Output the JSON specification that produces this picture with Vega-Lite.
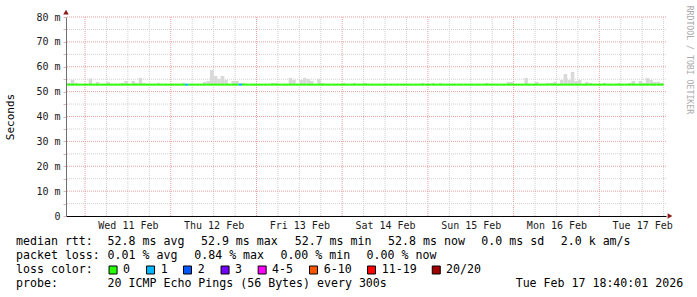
{
  "$schema": "https://vega.github.io/schema/vega-lite/v6.json",
  "padding": {"left": 4, "top": 5, "right": 4, "bottom": 2},
  "background": "white",
  "spacing": 5,
  "config": {
    "view": {"stroke": null},
    "font": "DejaVu Sans Mono",
    "axisY": {
      "labelFont": "DejaVu Sans Mono", "labelFontSize": 10, "labelColor": "#1a1a1a", "labelPadding": 3,
      "tickSize": 3, "tickColor": "#d8b4b4", "grid": false, "domainColor": "#707070", "labelOverlap": false,
      "titleFont": "DejaVu Sans Mono", "titleFontSize": 11, "titleFontWeight": "normal", "titleColor": "#000000", "titlePadding": 20
    }
  },
  "datasets": {
    "hours": [
      {"t":"2026-02-10T19:00Z","e":"2026-02-10T20:00Z","m":52.8,"l":"0","s":53.5},
      {"t":"2026-02-10T20:00Z","e":"2026-02-10T21:00Z","m":52.8,"l":"0","s":54.7},
      {"t":"2026-02-10T21:00Z","e":"2026-02-10T22:00Z","m":52.8,"l":"0","s":53.5},
      {"t":"2026-02-10T22:00Z","e":"2026-02-10T23:00Z","m":52.8,"l":"0"},
      {"t":"2026-02-10T23:00Z","e":"2026-02-11T00:00Z","m":52.8,"l":"0"},
      {"t":"2026-02-11T00:00Z","e":"2026-02-11T01:00Z","m":52.8,"l":"0"},
      {"t":"2026-02-11T01:00Z","e":"2026-02-11T02:00Z","m":52.8,"l":"0","s":55.2},
      {"t":"2026-02-11T02:00Z","e":"2026-02-11T03:00Z","m":52.8,"l":"0"},
      {"t":"2026-02-11T03:00Z","e":"2026-02-11T04:00Z","m":52.8,"l":"0","s":53.9},
      {"t":"2026-02-11T04:00Z","e":"2026-02-11T05:00Z","m":52.8,"l":"0"},
      {"t":"2026-02-11T05:00Z","e":"2026-02-11T06:00Z","m":52.8,"l":"0"},
      {"t":"2026-02-11T06:00Z","e":"2026-02-11T07:00Z","m":52.8,"l":"0","s":53.9},
      {"t":"2026-02-11T07:00Z","e":"2026-02-11T08:00Z","m":52.8,"l":"0"},
      {"t":"2026-02-11T08:00Z","e":"2026-02-11T09:00Z","m":52.8,"l":"0"},
      {"t":"2026-02-11T09:00Z","e":"2026-02-11T10:00Z","m":52.8,"l":"0"},
      {"t":"2026-02-11T10:00Z","e":"2026-02-11T11:00Z","m":52.8,"l":"0","s":53.5},
      {"t":"2026-02-11T11:00Z","e":"2026-02-11T12:00Z","m":52.8,"l":"0","s":54.3},
      {"t":"2026-02-11T12:00Z","e":"2026-02-11T13:00Z","m":52.8,"l":"0"},
      {"t":"2026-02-11T13:00Z","e":"2026-02-11T14:00Z","m":52.8,"l":"0","s":54.3},
      {"t":"2026-02-11T14:00Z","e":"2026-02-11T15:00Z","m":52.8,"l":"0","s":53.5},
      {"t":"2026-02-11T15:00Z","e":"2026-02-11T16:00Z","m":52.8,"l":"0","s":55.5},
      {"t":"2026-02-11T16:00Z","e":"2026-02-11T17:00Z","m":52.8,"l":"0","s":53.5},
      {"t":"2026-02-11T17:00Z","e":"2026-02-11T18:00Z","m":52.8,"l":"0"},
      {"t":"2026-02-11T18:00Z","e":"2026-02-11T19:00Z","m":52.8,"l":"0"},
      {"t":"2026-02-11T19:00Z","e":"2026-02-11T20:00Z","m":52.8,"l":"0"},
      {"t":"2026-02-11T20:00Z","e":"2026-02-11T21:00Z","m":52.8,"l":"0","s":53.5},
      {"t":"2026-02-11T21:00Z","e":"2026-02-11T22:00Z","m":52.8,"l":"0"},
      {"t":"2026-02-11T22:00Z","e":"2026-02-11T23:00Z","m":52.8,"l":"0"},
      {"t":"2026-02-11T23:00Z","e":"2026-02-12T00:00Z","m":52.8,"l":"0"},
      {"t":"2026-02-12T00:00Z","e":"2026-02-12T01:00Z","m":52.8,"l":"0"},
      {"t":"2026-02-12T01:00Z","e":"2026-02-12T02:00Z","m":52.8,"l":"0"},
      {"t":"2026-02-12T02:00Z","e":"2026-02-12T03:00Z","m":52.8,"l":"0"},
      {"t":"2026-02-12T03:00Z","e":"2026-02-12T04:00Z","m":52.8,"l":"0","s":53.5},
      {"t":"2026-02-12T04:00Z","e":"2026-02-12T05:00Z","m":52.8,"l":"1"},
      {"t":"2026-02-12T05:00Z","e":"2026-02-12T06:00Z","m":52.8,"l":"0"},
      {"t":"2026-02-12T06:00Z","e":"2026-02-12T07:00Z","m":52.8,"l":"0"},
      {"t":"2026-02-12T07:00Z","e":"2026-02-12T08:00Z","m":52.8,"l":"0"},
      {"t":"2026-02-12T08:00Z","e":"2026-02-12T09:00Z","m":52.8,"l":"0"},
      {"t":"2026-02-12T09:00Z","e":"2026-02-12T10:00Z","m":52.8,"l":"0","s":53.9},
      {"t":"2026-02-12T10:00Z","e":"2026-02-12T11:00Z","m":52.8,"l":"0","s":54.3},
      {"t":"2026-02-12T11:00Z","e":"2026-02-12T12:00Z","m":52.8,"l":"0","s":58.7},
      {"t":"2026-02-12T12:00Z","e":"2026-02-12T13:00Z","m":52.8,"l":"0","s":56.3},
      {"t":"2026-02-12T13:00Z","e":"2026-02-12T14:00Z","m":52.8,"l":"0","s":55.1},
      {"t":"2026-02-12T14:00Z","e":"2026-02-12T15:00Z","m":52.8,"l":"0","s":56.3},
      {"t":"2026-02-12T15:00Z","e":"2026-02-12T16:00Z","m":52.8,"l":"0","s":54.7},
      {"t":"2026-02-12T16:00Z","e":"2026-02-12T17:00Z","m":52.8,"l":"0"},
      {"t":"2026-02-12T17:00Z","e":"2026-02-12T18:00Z","m":52.8,"l":"0","s":54.3},
      {"t":"2026-02-12T18:00Z","e":"2026-02-12T19:00Z","m":52.8,"l":"0","s":54.3},
      {"t":"2026-02-12T19:00Z","e":"2026-02-12T20:00Z","m":52.8,"l":"1","s":53.5},
      {"t":"2026-02-12T20:00Z","e":"2026-02-12T21:00Z","m":52.8,"l":"0","s":53.5},
      {"t":"2026-02-12T21:00Z","e":"2026-02-12T22:00Z","m":52.8,"l":"0"},
      {"t":"2026-02-12T22:00Z","e":"2026-02-12T23:00Z","m":52.8,"l":"0"},
      {"t":"2026-02-12T23:00Z","e":"2026-02-13T00:00Z","m":52.8,"l":"0"},
      {"t":"2026-02-13T00:00Z","e":"2026-02-13T01:00Z","m":52.8,"l":"0"},
      {"t":"2026-02-13T01:00Z","e":"2026-02-13T02:00Z","m":52.8,"l":"0"},
      {"t":"2026-02-13T02:00Z","e":"2026-02-13T03:00Z","m":52.8,"l":"0"},
      {"t":"2026-02-13T03:00Z","e":"2026-02-13T04:00Z","m":52.8,"l":"0"},
      {"t":"2026-02-13T04:00Z","e":"2026-02-13T05:00Z","m":52.8,"l":"0","s":53.5},
      {"t":"2026-02-13T05:00Z","e":"2026-02-13T06:00Z","m":52.8,"l":"0","s":53.5},
      {"t":"2026-02-13T06:00Z","e":"2026-02-13T07:00Z","m":52.8,"l":"0"},
      {"t":"2026-02-13T07:00Z","e":"2026-02-13T08:00Z","m":52.8,"l":"0"},
      {"t":"2026-02-13T08:00Z","e":"2026-02-13T09:00Z","m":52.8,"l":"0"},
      {"t":"2026-02-13T09:00Z","e":"2026-02-13T10:00Z","m":52.8,"l":"0","s":55.5},
      {"t":"2026-02-13T10:00Z","e":"2026-02-13T11:00Z","m":52.8,"l":"0","s":54.7},
      {"t":"2026-02-13T11:00Z","e":"2026-02-13T12:00Z","m":52.8,"l":"0"},
      {"t":"2026-02-13T12:00Z","e":"2026-02-13T13:00Z","m":52.8,"l":"0","s":54.7},
      {"t":"2026-02-13T13:00Z","e":"2026-02-13T14:00Z","m":52.8,"l":"0","s":55.5},
      {"t":"2026-02-13T14:00Z","e":"2026-02-13T15:00Z","m":52.8,"l":"0","s":55.1},
      {"t":"2026-02-13T15:00Z","e":"2026-02-13T16:00Z","m":52.8,"l":"0","s":54.3},
      {"t":"2026-02-13T16:00Z","e":"2026-02-13T17:00Z","m":52.8,"l":"0"},
      {"t":"2026-02-13T17:00Z","e":"2026-02-13T18:00Z","m":52.8,"l":"0","s":55.1},
      {"t":"2026-02-13T18:00Z","e":"2026-02-13T19:00Z","m":52.8,"l":"0","s":53.5},
      {"t":"2026-02-13T19:00Z","e":"2026-02-13T20:00Z","m":52.8,"l":"0"},
      {"t":"2026-02-13T20:00Z","e":"2026-02-13T21:00Z","m":52.8,"l":"0"},
      {"t":"2026-02-13T21:00Z","e":"2026-02-13T22:00Z","m":52.8,"l":"0"},
      {"t":"2026-02-13T22:00Z","e":"2026-02-13T23:00Z","m":52.8,"l":"0"},
      {"t":"2026-02-13T23:00Z","e":"2026-02-14T00:00Z","m":52.8,"l":"0"},
      {"t":"2026-02-14T00:00Z","e":"2026-02-14T01:00Z","m":52.8,"l":"0","s":53.5},
      {"t":"2026-02-14T01:00Z","e":"2026-02-14T02:00Z","m":52.8,"l":"0"},
      {"t":"2026-02-14T02:00Z","e":"2026-02-14T03:00Z","m":52.8,"l":"0"},
      {"t":"2026-02-14T03:00Z","e":"2026-02-14T04:00Z","m":52.8,"l":"0","s":53.5},
      {"t":"2026-02-14T04:00Z","e":"2026-02-14T05:00Z","m":52.8,"l":"0"},
      {"t":"2026-02-14T05:00Z","e":"2026-02-14T06:00Z","m":52.8,"l":"0"},
      {"t":"2026-02-14T06:00Z","e":"2026-02-14T07:00Z","m":52.8,"l":"0","s":53.5},
      {"t":"2026-02-14T07:00Z","e":"2026-02-14T08:00Z","m":52.8,"l":"0"},
      {"t":"2026-02-14T08:00Z","e":"2026-02-14T09:00Z","m":52.8,"l":"0"},
      {"t":"2026-02-14T09:00Z","e":"2026-02-14T10:00Z","m":52.8,"l":"0"},
      {"t":"2026-02-14T10:00Z","e":"2026-02-14T11:00Z","m":52.8,"l":"0"},
      {"t":"2026-02-14T11:00Z","e":"2026-02-14T12:00Z","m":52.8,"l":"0"},
      {"t":"2026-02-14T12:00Z","e":"2026-02-14T13:00Z","m":52.8,"l":"0"},
      {"t":"2026-02-14T13:00Z","e":"2026-02-14T14:00Z","m":52.8,"l":"0"},
      {"t":"2026-02-14T14:00Z","e":"2026-02-14T15:00Z","m":52.8,"l":"0"},
      {"t":"2026-02-14T15:00Z","e":"2026-02-14T16:00Z","m":52.8,"l":"0"},
      {"t":"2026-02-14T16:00Z","e":"2026-02-14T17:00Z","m":52.8,"l":"0"},
      {"t":"2026-02-14T17:00Z","e":"2026-02-14T18:00Z","m":52.8,"l":"0"},
      {"t":"2026-02-14T18:00Z","e":"2026-02-14T19:00Z","m":52.8,"l":"0"},
      {"t":"2026-02-14T19:00Z","e":"2026-02-14T20:00Z","m":52.8,"l":"0"},
      {"t":"2026-02-14T20:00Z","e":"2026-02-14T21:00Z","m":52.8,"l":"0"},
      {"t":"2026-02-14T21:00Z","e":"2026-02-14T22:00Z","m":52.8,"l":"0"},
      {"t":"2026-02-14T22:00Z","e":"2026-02-14T23:00Z","m":52.8,"l":"0","s":53.5},
      {"t":"2026-02-14T23:00Z","e":"2026-02-15T00:00Z","m":52.8,"l":"0"},
      {"t":"2026-02-15T00:00Z","e":"2026-02-15T01:00Z","m":52.8,"l":"0"},
      {"t":"2026-02-15T01:00Z","e":"2026-02-15T02:00Z","m":52.8,"l":"0","s":53.5},
      {"t":"2026-02-15T02:00Z","e":"2026-02-15T03:00Z","m":52.8,"l":"0"},
      {"t":"2026-02-15T03:00Z","e":"2026-02-15T04:00Z","m":52.8,"l":"0","s":53.5},
      {"t":"2026-02-15T04:00Z","e":"2026-02-15T05:00Z","m":52.8,"l":"0"},
      {"t":"2026-02-15T05:00Z","e":"2026-02-15T06:00Z","m":52.8,"l":"0"},
      {"t":"2026-02-15T06:00Z","e":"2026-02-15T07:00Z","m":52.8,"l":"0"},
      {"t":"2026-02-15T07:00Z","e":"2026-02-15T08:00Z","m":52.8,"l":"0"},
      {"t":"2026-02-15T08:00Z","e":"2026-02-15T09:00Z","m":52.8,"l":"0"},
      {"t":"2026-02-15T09:00Z","e":"2026-02-15T10:00Z","m":52.8,"l":"0"},
      {"t":"2026-02-15T10:00Z","e":"2026-02-15T11:00Z","m":52.8,"l":"0"},
      {"t":"2026-02-15T11:00Z","e":"2026-02-15T12:00Z","m":52.8,"l":"0"},
      {"t":"2026-02-15T12:00Z","e":"2026-02-15T13:00Z","m":52.8,"l":"0"},
      {"t":"2026-02-15T13:00Z","e":"2026-02-15T14:00Z","m":52.8,"l":"0"},
      {"t":"2026-02-15T14:00Z","e":"2026-02-15T15:00Z","m":52.8,"l":"0"},
      {"t":"2026-02-15T15:00Z","e":"2026-02-15T16:00Z","m":52.8,"l":"0"},
      {"t":"2026-02-15T16:00Z","e":"2026-02-15T17:00Z","m":52.8,"l":"0","s":53.5},
      {"t":"2026-02-15T17:00Z","e":"2026-02-15T18:00Z","m":52.8,"l":"0"},
      {"t":"2026-02-15T18:00Z","e":"2026-02-15T19:00Z","m":52.8,"l":"0"},
      {"t":"2026-02-15T19:00Z","e":"2026-02-15T20:00Z","m":52.8,"l":"0"},
      {"t":"2026-02-15T20:00Z","e":"2026-02-15T21:00Z","m":52.8,"l":"0"},
      {"t":"2026-02-15T21:00Z","e":"2026-02-15T22:00Z","m":52.8,"l":"0"},
      {"t":"2026-02-15T22:00Z","e":"2026-02-15T23:00Z","m":52.8,"l":"0","s":53.9},
      {"t":"2026-02-15T23:00Z","e":"2026-02-16T00:00Z","m":52.8,"l":"0","s":53.9},
      {"t":"2026-02-16T00:00Z","e":"2026-02-16T01:00Z","m":52.8,"l":"0"},
      {"t":"2026-02-16T01:00Z","e":"2026-02-16T02:00Z","m":52.8,"l":"0"},
      {"t":"2026-02-16T02:00Z","e":"2026-02-16T03:00Z","m":52.8,"l":"0"},
      {"t":"2026-02-16T03:00Z","e":"2026-02-16T04:00Z","m":52.8,"l":"0","s":55.5},
      {"t":"2026-02-16T04:00Z","e":"2026-02-16T05:00Z","m":52.8,"l":"0"},
      {"t":"2026-02-16T05:00Z","e":"2026-02-16T06:00Z","m":52.8,"l":"0"},
      {"t":"2026-02-16T06:00Z","e":"2026-02-16T07:00Z","m":52.8,"l":"0","s":53.9},
      {"t":"2026-02-16T07:00Z","e":"2026-02-16T08:00Z","m":52.8,"l":"0"},
      {"t":"2026-02-16T08:00Z","e":"2026-02-16T09:00Z","m":52.8,"l":"0"},
      {"t":"2026-02-16T09:00Z","e":"2026-02-16T10:00Z","m":52.8,"l":"0","s":53.5},
      {"t":"2026-02-16T10:00Z","e":"2026-02-16T11:00Z","m":52.8,"l":"0","s":53.5},
      {"t":"2026-02-16T11:00Z","e":"2026-02-16T12:00Z","m":52.8,"l":"0","s":53.9},
      {"t":"2026-02-16T12:00Z","e":"2026-02-16T13:00Z","m":52.8,"l":"0"},
      {"t":"2026-02-16T13:00Z","e":"2026-02-16T14:00Z","m":52.8,"l":"0","s":54.7},
      {"t":"2026-02-16T14:00Z","e":"2026-02-16T15:00Z","m":52.8,"l":"0","s":57.1},
      {"t":"2026-02-16T15:00Z","e":"2026-02-16T16:00Z","m":52.8,"l":"0","s":54.7},
      {"t":"2026-02-16T16:00Z","e":"2026-02-16T17:00Z","m":52.8,"l":"0","s":57.9},
      {"t":"2026-02-16T17:00Z","e":"2026-02-16T18:00Z","m":52.8,"l":"0","s":54.3},
      {"t":"2026-02-16T18:00Z","e":"2026-02-16T19:00Z","m":52.8,"l":"0","s":54.7},
      {"t":"2026-02-16T19:00Z","e":"2026-02-16T20:00Z","m":52.8,"l":"0"},
      {"t":"2026-02-16T20:00Z","e":"2026-02-16T21:00Z","m":52.8,"l":"0","s":53.9},
      {"t":"2026-02-16T21:00Z","e":"2026-02-16T22:00Z","m":52.8,"l":"0","s":53.5},
      {"t":"2026-02-16T22:00Z","e":"2026-02-16T23:00Z","m":52.8,"l":"0"},
      {"t":"2026-02-16T23:00Z","e":"2026-02-17T00:00Z","m":52.8,"l":"0"},
      {"t":"2026-02-17T00:00Z","e":"2026-02-17T01:00Z","m":52.8,"l":"0"},
      {"t":"2026-02-17T01:00Z","e":"2026-02-17T02:00Z","m":52.8,"l":"0","s":53.5},
      {"t":"2026-02-17T02:00Z","e":"2026-02-17T03:00Z","m":52.8,"l":"0"},
      {"t":"2026-02-17T03:00Z","e":"2026-02-17T04:00Z","m":52.8,"l":"0"},
      {"t":"2026-02-17T04:00Z","e":"2026-02-17T05:00Z","m":52.8,"l":"0"},
      {"t":"2026-02-17T05:00Z","e":"2026-02-17T06:00Z","m":52.8,"l":"0","s":53.5},
      {"t":"2026-02-17T06:00Z","e":"2026-02-17T07:00Z","m":52.8,"l":"0"},
      {"t":"2026-02-17T07:00Z","e":"2026-02-17T08:00Z","m":52.8,"l":"0"},
      {"t":"2026-02-17T08:00Z","e":"2026-02-17T09:00Z","m":52.8,"l":"0","s":53.5},
      {"t":"2026-02-17T09:00Z","e":"2026-02-17T10:00Z","m":52.8,"l":"0","s":54.3},
      {"t":"2026-02-17T10:00Z","e":"2026-02-17T11:00Z","m":52.8,"l":"0"},
      {"t":"2026-02-17T11:00Z","e":"2026-02-17T12:00Z","m":52.8,"l":"0","s":54.3},
      {"t":"2026-02-17T12:00Z","e":"2026-02-17T13:00Z","m":52.8,"l":"0","s":53.5},
      {"t":"2026-02-17T13:00Z","e":"2026-02-17T14:00Z","m":52.8,"l":"0","s":55.5},
      {"t":"2026-02-17T14:00Z","e":"2026-02-17T15:00Z","m":52.8,"l":"0","s":54.7},
      {"t":"2026-02-17T15:00Z","e":"2026-02-17T16:00Z","m":52.8,"l":"0","s":53.9},
      {"t":"2026-02-17T16:00Z","e":"2026-02-17T17:00Z","m":52.8,"l":"0","s":53.9},
      {"t":"2026-02-17T17:00Z","e":"2026-02-17T18:00Z","m":52.8,"l":"0","s":53.5}
    ],
    "vgrid": [
      {"t":"2026-02-11T00:00Z","k":"major"},{"t":"2026-02-11T06:00Z","k":"minor"},{"t":"2026-02-11T12:00Z","k":"minor"},{"t":"2026-02-11T18:00Z","k":"minor"},
      {"t":"2026-02-12T00:00Z","k":"major"},{"t":"2026-02-12T06:00Z","k":"minor"},{"t":"2026-02-12T12:00Z","k":"minor"},{"t":"2026-02-12T18:00Z","k":"minor"},
      {"t":"2026-02-13T00:00Z","k":"major"},{"t":"2026-02-13T06:00Z","k":"minor"},{"t":"2026-02-13T12:00Z","k":"minor"},{"t":"2026-02-13T18:00Z","k":"minor"},
      {"t":"2026-02-14T00:00Z","k":"major"},{"t":"2026-02-14T06:00Z","k":"minor"},{"t":"2026-02-14T12:00Z","k":"minor"},{"t":"2026-02-14T18:00Z","k":"minor"},
      {"t":"2026-02-15T00:00Z","k":"major"},{"t":"2026-02-15T06:00Z","k":"minor"},{"t":"2026-02-15T12:00Z","k":"minor"},{"t":"2026-02-15T18:00Z","k":"minor"},
      {"t":"2026-02-16T00:00Z","k":"major"},{"t":"2026-02-16T06:00Z","k":"minor"},{"t":"2026-02-16T12:00Z","k":"minor"},{"t":"2026-02-16T18:00Z","k":"minor"},
      {"t":"2026-02-17T00:00Z","k":"major"},{"t":"2026-02-17T06:00Z","k":"minor"},{"t":"2026-02-17T12:00Z","k":"minor"},{"t":"2026-02-17T18:00Z","k":"minor"}
    ],
    "hgrid": [
      {"v":5,"k":"minor"},{"v":10,"k":"major"},{"v":15,"k":"minor"},{"v":20,"k":"major"},
      {"v":25,"k":"minor"},{"v":30,"k":"major"},{"v":35,"k":"minor"},{"v":40,"k":"major"},
      {"v":45,"k":"minor"},{"v":50,"k":"major"},{"v":55,"k":"minor"},{"v":60,"k":"major"},
      {"v":65,"k":"minor"},{"v":70,"k":"major"},{"v":75,"k":"minor"},{"v":80,"k":"major"}
    ],
    "legendText": [
      {"r":0,"c":0,"txt":"median rtt:"},
      {"r":0,"c":13.14,"txt":"52.8 ms avg"},
      {"r":0,"c":26.53,"txt":"52.9 ms max"},
      {"r":0,"c":39.98,"txt":"52.7 ms min"},
      {"r":0,"c":53.38,"txt":"52.8 ms now"},
      {"r":0,"c":66.76,"txt":"0.0 ms sd"},
      {"r":0,"c":78.15,"txt":"2.0 k am/s"},
      {"r":1,"c":0,"txt":"packet loss:"},
      {"r":1,"c":13.14,"txt":"0.01 % avg"},
      {"r":1,"c":25.57,"txt":"0.84 % max"},
      {"r":1,"c":37.93,"txt":"0.00 % min"},
      {"r":1,"c":50.29,"txt":"0.00 % now"},
      {"r":2,"c":0,"txt":"loss color:"},
      {"r":2,"c":15.35,"txt":"0"},
      {"r":2,"c":20.76,"txt":"1"},
      {"r":2,"c":26.08,"txt":"2"},
      {"r":2,"c":31.42,"txt":"3"},
      {"r":2,"c":36.73,"txt":"4-5"},
      {"r":2,"c":44.15,"txt":"6-10"},
      {"r":2,"c":52.47,"txt":"11-19"},
      {"r":2,"c":61.69,"txt":"20/20"},
      {"r":3,"c":0,"txt":"probe:"},
      {"r":3,"c":13.14,"txt":"20 ICMP Echo Pings (56 Bytes) every 300s"},
      {"r":3,"c":71.68,"txt":"Tue Feb 17 18:40:01 2026"}
    ],
    "lossSwatches": [
      {"r":2,"c":13.92,"l":"0"},
      {"r":2,"c":19.3,"l":"1"},
      {"r":2,"c":24.6,"l":"2"},
      {"r":2,"c":29.99,"l":"3"},
      {"r":2,"c":35.31,"l":"4-5"},
      {"r":2,"c":42.68,"l":"6-10"},
      {"r":2,"c":51.0,"l":"11-19"},
      {"r":2,"c":60.29,"l":"20/20"}
    ]
  },
  "vconcat": [
    {
      "width": 600,
      "height": 199,
      "title": {
        "text": "RRDTOOL / TOBI OETIKER",
        "orient": "right", "anchor": "start", "angle": 90, "align": "left", "baseline": "middle",
        "offset": 8, "dx": -4,
        "font": "DejaVu Sans Mono", "fontSize": 8.2, "fontWeight": "normal", "color": "#aaaaaa"
      },
      "layer": [
        {
          "data": {"name": "vgrid"},
          "mark": {"type": "rule", "strokeDash": [1, 1], "strokeWidth": 1},
          "encoding": {
            "x": {
              "field": "t", "type": "temporal", "title": null,
              "scale": {"type": "utc", "domain": [1770748800000, 1771353600000]},
              "axis": {
                "values": [1770811200000, 1770897600000, 1770984000000, 1771070400000, 1771156800000, 1771243200000, 1771329600000],
                "format": "%a %d %b",
                "labelOverlap": false, "labelFlush": false,
                "labelFont": "DejaVu Sans Mono", "labelFontSize": 10, "labelColor": "#1a1a1a", "labelPadding": 4,
                "ticks": false, "grid": false,
                "domainColor": "#000000", "domainWidth": 1
              }
            },
            "stroke": {"field": "k", "type": "nominal", "legend": null,
                       "scale": {"domain": ["major", "minor"], "range": ["#e6a0a0", "#d0d0d0"]}}
          }
        },
        {
          "data": {"name": "hgrid"},
          "mark": {"type": "rule", "strokeDash": [1, 1], "strokeWidth": 1},
          "encoding": {
            "y": {
              "field": "v", "type": "quantitative", "title": "Seconds",
              "scale": {"domain": [0, 80], "nice": false},
              "axis": {
                "values": [0, 5, 10, 15, 20, 25, 30, 35, 40, 45, 50, 55, 60, 65, 70, 75, 80],
                "labelExpr": "datum.value === 0 ? '0\u00a0\u00a0' : (datum.value % 10 === 0 ? datum.value + ' m' : '')"
              }
            },
            "stroke": {"field": "k", "type": "nominal", "legend": null}
          }
        },
        {
          "data": {"name": "hours"},
          "mark": {"type": "bar", "color": "#d9d9d9"},
          "encoding": {
            "x": {"field": "t", "type": "temporal"},
            "x2": {"field": "e"},
            "y": {
              "field": "s", "type": "quantitative", "title": "Seconds",
              "axis": {
                "values": [0, 5, 10, 15, 20, 25, 30, 35, 40, 45, 50, 55, 60, 65, 70, 75, 80],
                "labelExpr": "datum.value === 0 ? '0\u00a0\u00a0' : (datum.value % 10 === 0 ? datum.value + ' m' : '')"
              }
            },
            "y2": {"field": "m"}
          }
        },
        {
          "data": {"name": "hours"},
          "mark": {"type": "rule", "strokeWidth": 2},
          "encoding": {
            "x": {"field": "t", "type": "temporal"},
            "x2": {"field": "e"},
            "y": {
              "field": "m", "type": "quantitative", "title": "Seconds",
              "axis": {
                "values": [0, 5, 10, 15, 20, 25, 30, 35, 40, 45, 50, 55, 60, 65, 70, 75, 80],
                "labelExpr": "datum.value === 0 ? '0\u00a0\u00a0' : (datum.value % 10 === 0 ? datum.value + ' m' : '')"
              }
            },
            "color": {
              "field": "l", "type": "nominal", "legend": null,
              "scale": {"domain": ["0","1","2","3","4-5","6-10","11-19","20/20"],
                        "range": ["#26ff00","#00b8ff","#0059ff","#7300ff","#ff00ff","#ff5500","#ff0000","#a10000"]}
            }
          }
        },
        {
          "data": {"values": [{"t":"2026-02-10T18:40Z","v":82.0}]},
          "mark": {"type": "point", "shape": "triangle-up", "filled": true, "size": 30, "color": "#8b1a1a", "opacity": 1},
          "encoding": {
            "x": {"field": "t", "type": "temporal"},
            "y": {
              "field": "v", "type": "quantitative", "title": "Seconds",
              "axis": {
                "values": [0, 5, 10, 15, 20, 25, 30, 35, 40, 45, 50, 55, 60, 65, 70, 75, 80],
                "labelExpr": "datum.value === 0 ? '0\u00a0\u00a0' : (datum.value % 10 === 0 ? datum.value + ' m' : '')"
              }
            }
          }
        },
        {
          "data": {"values": [{"t":"2026-02-17T19:47Z","v":0}]},
          "mark": {"type": "point", "shape": "triangle-right", "filled": true, "size": 30, "color": "#8b1a1a", "opacity": 1},
          "encoding": {
            "x": {"field": "t", "type": "temporal"},
            "y": {
              "field": "v", "type": "quantitative", "title": "Seconds",
              "axis": {
                "values": [0, 5, 10, 15, 20, 25, 30, 35, 40, 45, 50, 55, 60, 65, 70, 75, 80],
                "labelExpr": "datum.value === 0 ? '0\u00a0\u00a0' : (datum.value % 10 === 0 ? datum.value + ' m' : '')"
              }
            }
          }
        }
      ]
    },
    {
      "width": 620,
      "height": 56,
      "layer": [
        {
          "data": {"name": "legendText"},
          "mark": {"type": "text", "font": "DejaVu Sans Mono", "fontSize": 11.6, "align": "left", "baseline": "middle", "color": "#000000"},
          "encoding": {
            "x": {"field": "c", "type": "quantitative", "scale": {"domain": [7.17, 96.12], "nice": false, "zero": false}, "axis": null},
            "y": {"field": "r", "type": "quantitative", "scale": {"domain": [-0.5, 3.5], "reverse": true, "nice": false, "zero": false}, "axis": null},
            "text": {"field": "txt"}
          }
        },
        {
          "data": {"name": "lossSwatches"},
          "mark": {"type": "point", "shape": "square", "filled": true, "size": 64, "stroke": "#000000", "strokeWidth": 1, "opacity": 1},
          "encoding": {
            "x": {"field": "c", "type": "quantitative", "axis": null},
            "y": {"field": "r", "type": "quantitative", "axis": null},
            "fill": {
              "field": "l", "type": "nominal", "legend": null,
              "scale": {"domain": ["0","1","2","3","4-5","6-10","11-19","20/20"],
                        "range": ["#26ff00","#00b8ff","#0059ff","#7300ff","#ff00ff","#ff5500","#ff0000","#a10000"]}
            }
          }
        }
      ]
    }
  ]
}
